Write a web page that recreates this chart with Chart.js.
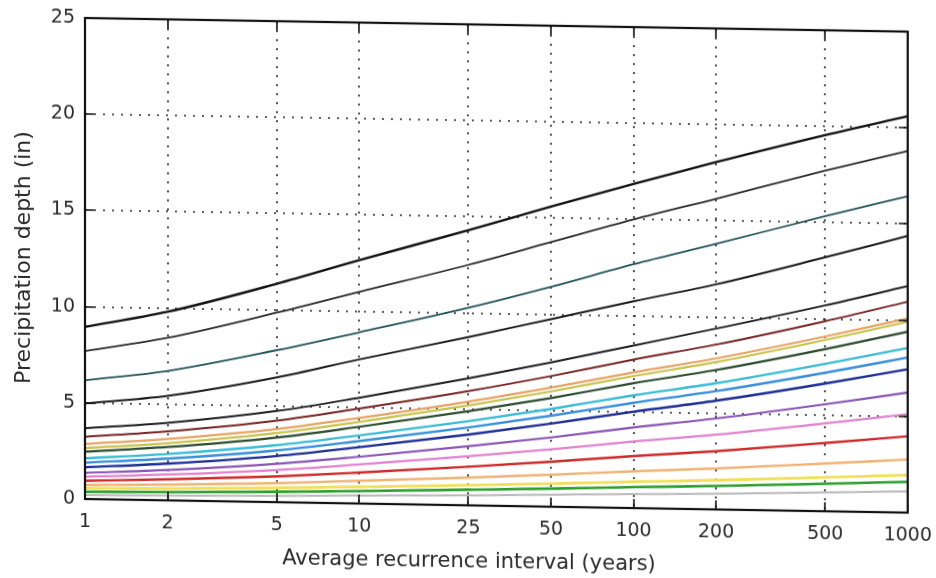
<!DOCTYPE html>
<html>
<head>
<meta charset="utf-8">
<script src="https://cdn.jsdelivr.net/npm/chart.js@4/dist/chart.umd.min.js"></script>
<style>
html, body { margin: 0; padding: 0; background: #fff; }
/* the scanned figure is slightly sheared: vertical lines stay vertical, horizontals drop to the right */
#wrap { width: 936px; height: 578px; transform: skewY(0.95deg); transform-origin: 85px 0; }
</style>
</head>
<body>
<div id="wrap"><canvas id="chart" width="936" height="578"></canvas></div>
<script>
const ari = [1, 2, 5, 10, 25, 50, 100, 200, 500, 1000];
const yTicks = [0, 5, 10, 15, 20, 25];

// precipitation depth (in) per duration, one value per recurrence interval above
const d60day = [8.95, 9.8, 11.35, 12.65, 14.3, 15.6, 16.85, 18.05, 19.55, 20.6];
const d45day = [7.69, 8.45, 9.85, 11.0, 12.5, 13.75, 15.0, 16.15, 17.7, 18.8];
const d30day = [6.17, 6.73, 7.9, 8.9, 10.27, 11.43, 12.67, 13.8, 15.34, 16.45];
const d20day = [4.97, 5.43, 6.48, 7.49, 8.75, 9.75, 10.75, 11.7, 13.2, 14.38];
const d10day = [3.68, 4.03, 4.74, 5.5, 6.6, 7.5, 8.45, 9.4, 10.7, 11.77];
const d7day = [3.24, 3.59, 4.24, 4.94, 5.94, 6.79, 7.72, 8.57, 9.88, 10.96];
const d4day = [2.86, 3.19, 3.8, 4.45, 5.39, 6.19, 7.05, 7.85, 9.08, 10.09];
const d3day = [2.64, 2.97, 3.59, 4.24, 5.19, 5.99, 6.86, 7.66, 8.9, 9.92];
const d2day = [2.46, 2.77, 3.36, 3.99, 4.89, 5.65, 6.49, 7.25, 8.43, 9.4];
const d24hr = [2.12, 2.41, 2.96, 3.54, 4.37, 5.08, 5.86, 6.56, 7.66, 8.56];
const d12hr = [1.89, 2.17, 2.69, 3.25, 4.05, 4.73, 5.47, 6.15, 7.2, 8.06];
const d6hr = [1.65, 1.91, 2.4, 2.93, 3.68, 4.32, 5.01, 5.65, 6.64, 7.45];
const d3hr = [1.36, 1.58, 1.99, 2.43, 3.07, 3.6, 4.19, 4.73, 5.56, 6.24];
const d2hr = [1.16, 1.34, 1.67, 2.03, 2.55, 2.98, 3.46, 3.89, 4.57, 5.12];
const d60min = [0.95, 1.09, 1.34, 1.61, 2.01, 2.34, 2.7, 3.03, 3.55, 3.97];
const d30min = [0.73, 0.82, 0.99, 1.18, 1.44, 1.66, 1.91, 2.13, 2.48, 2.76];
const d15min = [0.56, 0.62, 0.74, 0.87, 1.05, 1.2, 1.37, 1.52, 1.76, 1.95];
const d10min = [0.38, 0.43, 0.54, 0.65, 0.81, 0.94, 1.09, 1.22, 1.43, 1.6];
const d5min = [0.21, 0.25, 0.33, 0.41, 0.52, 0.62, 0.73, 0.82, 0.98, 1.1];

const series = [
    ['60-day', d60day, '#141414', 2.4],
    ['45-day', d45day, '#2b2b2b', 1.8],
    ['30-day', d30day, '#24545a', 1.8],
    ['20-day', d20day, '#1c1c1c', 2.0],
    ['10-day', d10day, '#202020', 2.0],
    ['7-day', d7day, '#7a2626', 2.0],
    ['4-day', d4day, '#e7a466', 2.2],
    ['3-day', d3day, '#c9c44e', 2.2],
    ['2-day', d2day, '#2d4d30', 2.2],
    ['24-hr', d24hr, '#3cbcd6', 2.4],
    ['12-hr', d12hr, '#3a8fdc', 2.4],
    ['6-hr', d6hr, '#1f2f96', 2.4],
    ['3-hr', d3hr, '#8a55b4', 2.2],
    ['2-hr', d2hr, '#e283cf', 2.2],
    ['60-min', d60min, '#cf2a2a', 2.4],
    ['30-min', d30min, '#f0b374', 2.4],
    ['15-min', d15min, '#f1df5a', 2.8],
    ['10-min', d10min, '#2c9e2c', 2.6],
    ['5-min', d5min, '#b8b8b8', 2.0]
];

const frameAndGrid = {
    id: 'frameAndGrid',
    beforeDatasetsDraw(chart) {
        const {ctx, chartArea: a, scales: {x, y}} = chart;
        ctx.save();
        ctx.strokeStyle = '#2a2a2a';
        ctx.lineWidth = 1.6;
        ctx.setLineDash([2, 7]);
        ari.slice(1, -1).forEach(v => {
            const px = Math.round(x.getPixelForValue(v));
            ctx.beginPath(); ctx.moveTo(px, a.top); ctx.lineTo(px, a.bottom); ctx.stroke();
        });
        yTicks.slice(1, -1).forEach(v => {
            const py = Math.round(y.getPixelForValue(v));
            ctx.beginPath(); ctx.moveTo(a.left, py); ctx.lineTo(a.right, py); ctx.stroke();
        });
        ctx.restore();
    },
    afterDatasetsDraw(chart) {
        const {ctx, chartArea: a, scales: {x, y}} = chart;
        const tl = 9;
        ctx.save();
        ctx.strokeStyle = '#111';
        ctx.lineWidth = 1.6;
        ari.forEach(v => {
            const px = Math.round(x.getPixelForValue(v));
            ctx.beginPath();
            ctx.moveTo(px, a.bottom); ctx.lineTo(px, a.bottom - tl);
            ctx.moveTo(px, a.top); ctx.lineTo(px, a.top + tl);
            ctx.stroke();
        });
        yTicks.forEach(v => {
            const py = Math.round(y.getPixelForValue(v));
            ctx.beginPath();
            ctx.moveTo(a.left, py); ctx.lineTo(a.left + tl, py);
            ctx.moveTo(a.right, py); ctx.lineTo(a.right - tl, py);
            ctx.stroke();
        });
        ctx.lineWidth = 2.2;
        ctx.strokeRect(a.left, a.top, a.right - a.left, a.bottom - a.top);
        // x axis title sits left of the plot centre in the original
        ctx.fillStyle = '#2b2b2b';
        ctx.font = '21px "DejaVu Sans"';
        ctx.textAlign = 'center';
        ctx.textBaseline = 'middle';
        ctx.fillText('Average recurrence interval (years)', 469, 556);
        ctx.restore();
    }
};

const ctx = document.getElementById('chart').getContext('2d');

new Chart(ctx, {
    type: 'line',
    data: {
        datasets: series.map(([name, vals, color, w]) => ({
            label: name,
            data: ari.map((t, i) => ({x: t, y: vals[i]})),
            borderColor: color,
            borderWidth: w,
            fill: false,
            cubicInterpolationMode: 'monotone'
        }))
    },
    options: {
        responsive: false,
        animation: false,
        layout: { padding: { left: 0, top: 18, right: 23, bottom: 0 } },
        plugins: { legend: { display: false }, tooltip: { enabled: false } },
        elements: { point: { radius: 0 } },
        scales: {
            x: {
                type: 'logarithmic',
                min: 1,
                max: 1000,
                afterBuildTicks: s => { s.ticks = ari.map(v => ({value: v})); },
                afterFit: s => { s.height = 79; },
                grid: { display: false },
                border: { display: false },
                ticks: {
                    autoSkip: false,
                    maxRotation: 0,
                    padding: 4,
                    color: '#2b2b2b',
                    font: { family: 'DejaVu Sans', size: 19 },
                    callback: v => String(v)
                }
            },
            y: {
                min: 0,
                max: 25,
                afterBuildTicks: s => { s.ticks = yTicks.map(v => ({value: v})); },
                afterFit: s => { s.width = 85; },
                grid: { display: false },
                border: { display: false },
                ticks: {
                    padding: 2,
                    color: '#2b2b2b',
                    font: { family: 'DejaVu Sans', size: 19 }
                },
                title: {
                    display: true,
                    text: 'Precipitation depth (in)',
                    color: '#2b2b2b',
                    font: { family: 'DejaVu Sans', size: 22 },
                    padding: { top: 11, bottom: 0 }
                }
            }
        }
    },
    plugins: [frameAndGrid]
});
</script>
</body>
</html>
